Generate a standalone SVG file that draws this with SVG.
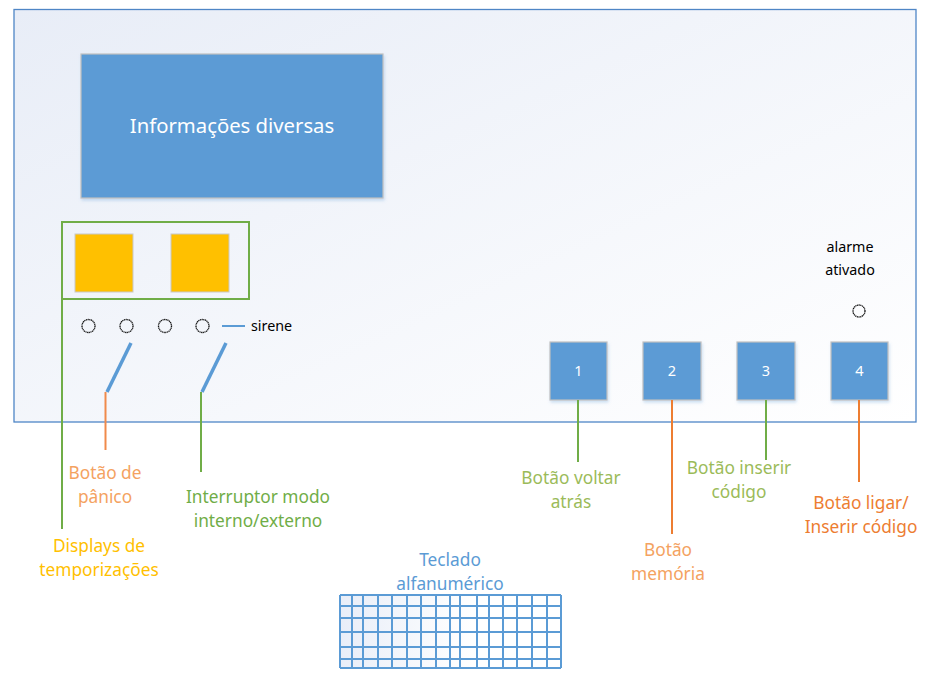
<svg xmlns="http://www.w3.org/2000/svg" width="936" height="682" viewBox="0 0 936 682">
<defs>
<linearGradient id="bg" x1="0" y1="0" x2="1" y2="1">
<stop offset="0" stop-color="#E8EDF7"/>
<stop offset="1" stop-color="#FFFFFF"/>
</linearGradient>
<linearGradient id="kb" x1="0" y1="0" x2="1" y2="0">
<stop offset="0" stop-color="#E9EEF8"/>
<stop offset="0.6" stop-color="#FFFFFF"/>
</linearGradient>
<filter id="sh" x="-10%" y="-10%" width="130%" height="130%">
<feDropShadow dx="1" dy="2" stdDeviation="1.5" flood-color="#5B9BD5" flood-opacity="0.3"/>
</filter>
</defs>
<style>
text{font-family:"Noto Sans","Open Sans","Liberation Sans",sans-serif}
.blk{fill:#5B9BD5;stroke:#C0C0C0;stroke-width:1.2;filter:url(#sh)}
.yl{fill:#FFC000;stroke:#C8C8C8;stroke-width:1}
.num{fill:#FFFFFF;font-size:14.5px;text-anchor:middle}
.lbl{font-size:17.3px;text-anchor:middle}
.sm{font-size:14.3px;fill:#000;}
.dot{fill:none;stroke:#111;stroke-width:1.3;stroke-dasharray:1.2 0.5}
.sw{stroke:#5B9BD5;stroke-width:3.5;stroke-linecap:butt}
.gl{stroke:#70AD47;stroke-width:2;fill:none}
.ol{stroke:#ED7D31;stroke-width:2;fill:none}
.ol2{stroke:#F08A4B;stroke-width:2;fill:none}
.kg line{stroke:#5B9BD5;stroke-width:2}
</style>
<rect id="frame" x="14" y="9.5" width="902" height="412.5" fill="url(#bg)" stroke="#4F86C6" stroke-width="1.3"/>

<g id="info">
<rect class="blk" x="81" y="54" width="302" height="144"/>
<text x="232" y="133" fill="#FFFFFF" font-size="20.3" text-anchor="middle">Informações diversas</text>
</g>

<g id="displays">
<rect class="yl" x="75" y="234" width="58" height="58"/>
<rect class="yl" x="171" y="234" width="58" height="58"/>
</g>

<g id="leds">
<circle class="dot" cx="88.5" cy="326" r="6.5"/>
<circle class="dot" cx="126.5" cy="326" r="6.5"/>
<circle class="dot" cx="165" cy="326" r="6.5"/>
<circle class="dot" cx="202.5" cy="326" r="6.5"/>
<line x1="222" y1="326" x2="245" y2="326" stroke="#5B9BD5" stroke-width="2"/>
<text class="sm" x="251" y="331">sirene</text>
</g>

<g id="switches">
<line class="sw" x1="131" y1="343" x2="107" y2="392"/>
<line class="sw" x1="226" y1="343" x2="202" y2="392"/>
</g>

<g id="alarm">
<text class="sm" x="850" y="252" text-anchor="middle">alarme</text>
<text class="sm" x="850" y="275" text-anchor="middle">ativado</text>
<circle class="dot" cx="859" cy="311" r="6"/>
</g>

<g id="btn1"><rect class="blk" x="550" y="342" width="57" height="58"/><text class="num" x="578.5" y="376">1</text></g>
<g id="btn2"><rect class="blk" x="643" y="342" width="58" height="58"/><text class="num" x="672" y="376">2</text></g>
<g id="btn3"><rect class="blk" x="737" y="342" width="58" height="58"/><text class="num" x="766" y="376">3</text></g>
<g id="btn4"><rect class="blk" x="831" y="342" width="57" height="58"/><text class="num" x="859.5" y="376">4</text></g>

<g id="connectors">
<polyline class="gl" points="62,529 62,222 249,222 249,299 62,299"/>
<line class="ol2" x1="105.5" y1="392" x2="105.5" y2="450"/>
<line class="gl" x1="201" y1="392" x2="201" y2="472"/>
<line class="gl" x1="578" y1="400" x2="578" y2="462"/>
<line class="ol" x1="672" y1="400" x2="672" y2="534"/>
<line class="gl" x1="766" y1="400" x2="766" y2="460"/>
<line class="ol" x1="859" y1="400" x2="859" y2="482"/>
</g>

<g id="label-panico" class="lbl" fill="#F4A261">
<text x="105" y="479">Botão de</text>
<text x="105" y="503">pânico</text>
</g>
<g id="label-interruptor" class="lbl" fill="#70AD47">
<text x="258" y="503">Interruptor modo</text>
<text x="258" y="527">interno/externo</text>
</g>
<g id="label-displays" class="lbl" fill="#FFC000">
<text x="99" y="552">Displays de</text>
<text x="99" y="576">temporizações</text>
</g>
<g id="label-voltar" class="lbl" fill="#9BBB59">
<text x="571" y="484">Botão voltar</text>
<text x="571" y="508">atrás</text>
</g>
<g id="label-inserir" class="lbl" fill="#9BBB59">
<text x="739" y="474">Botão inserir</text>
<text x="739" y="498">código</text>
</g>
<g id="label-memoria" class="lbl" fill="#F4A261">
<text x="668" y="556">Botão</text>
<text x="668" y="580">memória</text>
</g>
<g id="label-ligar" class="lbl" fill="#ED7D31">
<text x="861" y="509">Botão ligar/</text>
<text x="861" y="533">Inserir código</text>
</g>
<g id="label-teclado" class="lbl" fill="#5B9BD5">
<text x="450" y="566">Teclado</text>
<text x="450" y="590">alfanumérico</text>
</g>

<g id="keyboard" class="kg">
<rect x="340" y="595" width="221" height="73" fill="url(#kb)" stroke="none"/>
<line x1="340" y1="595" x2="340" y2="668"/>
<line x1="352" y1="595" x2="352" y2="668"/>
<line x1="363" y1="595" x2="363" y2="668"/>
<line x1="378" y1="595" x2="378" y2="668"/>
<line x1="392" y1="595" x2="392" y2="668"/>
<line x1="407" y1="595" x2="407" y2="668"/>
<line x1="421" y1="595" x2="421" y2="668"/>
<line x1="436" y1="595" x2="436" y2="668"/>
<line x1="450" y1="595" x2="450" y2="668"/>
<line x1="460" y1="595" x2="460" y2="668"/>
<line x1="477" y1="595" x2="477" y2="668"/>
<line x1="489" y1="595" x2="489" y2="668"/>
<line x1="503" y1="595" x2="503" y2="668"/>
<line x1="517" y1="595" x2="517" y2="668"/>
<line x1="532" y1="595" x2="532" y2="668"/>
<line x1="547" y1="595" x2="547" y2="668"/>
<line x1="561" y1="595" x2="561" y2="668"/>
<line x1="340" y1="595" x2="561" y2="595"/>
<line x1="340" y1="606" x2="561" y2="606"/>
<line x1="340" y1="618" x2="561" y2="618"/>
<line x1="340" y1="632" x2="561" y2="632"/>
<line x1="340" y1="647" x2="561" y2="647"/>
<line x1="340" y1="659" x2="561" y2="659"/>
<line x1="340" y1="668" x2="561" y2="668"/>
</g>
</svg>
